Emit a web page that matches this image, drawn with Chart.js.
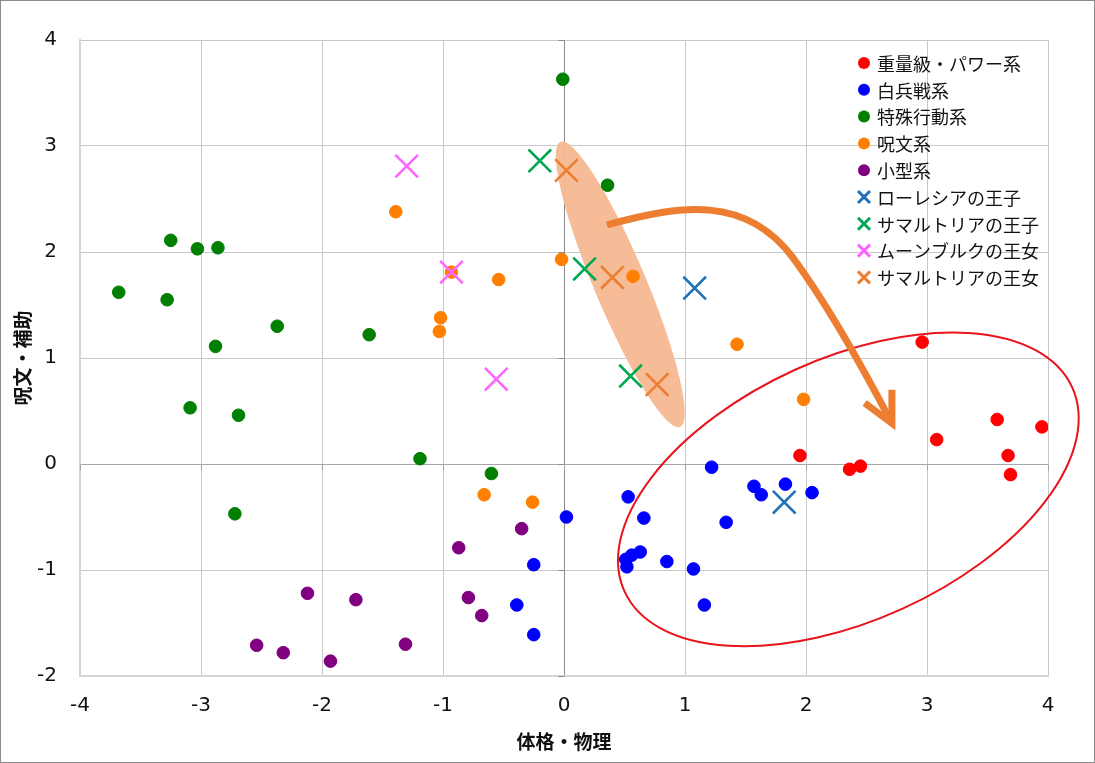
<!DOCTYPE html>
<html lang="ja">
<head>
<meta charset="utf-8">
<title>体格・物理 × 呪文・補助</title>
<script src="https://cdn.jsdelivr.net/npm/chart.js@4.4.1/dist/chart.umd.min.js"></script>
<style>
  html, body { margin: 0; padding: 0; background: #fff; }
  #wrap { width: 1095px; height: 763px; position: relative; }
</style>
</head>
<body>
<div id="wrap"><canvas id="chart"></canvas></div>
<script>
// tick labels
const x_ticks = [-4, -3, -2, -1, 0, 1, 2, 3, 4];
const y_ticks = [-2, -1, 0, 1, 2, 3, 4];

// series names (legend order)
const series_names = [
  "重量級・パワー系", "白兵戦系", "特殊行動系", "呪文系", "小型系",
  "ローレシアの王子", "サマルトリアの王子", "ムーンブルクの王女", "サマルトリアの王女"
];

// values: [体格・物理, 呪文・補助]
const heavy = [[1.95, 0.08], [2.36, -0.05], [2.45, -0.02], [2.96, 1.15], [3.08, 0.23],
  [3.58, 0.42], [3.67, 0.08], [3.69, -0.10], [3.95, 0.35]];
const melee = [[0.02, -0.50], [-0.25, -0.95], [-0.39, -1.33], [-0.25, -1.61], [0.53, -0.31],
  [0.66, -0.51], [0.63, -0.83], [0.56, -0.86], [0.51, -0.90], [0.52, -0.97], [0.85, -0.92],
  [1.07, -0.99], [1.16, -1.33], [1.22, -0.03], [1.34, -0.55], [1.57, -0.21], [1.63, -0.29],
  [1.83, -0.19], [2.05, -0.27]];
const special = [[-3.68, 1.62], [-3.25, 2.11], [-3.03, 2.03], [-2.86, 2.04], [-3.28, 1.55],
  [-2.88, 1.11], [-2.37, 1.30], [-1.61, 1.22], [-3.09, 0.53], [-2.69, 0.46], [-2.72, -0.47],
  [-1.19, 0.05], [-0.60, -0.09], [-0.01, 3.63], [0.36, 2.63]];
const spell = [[-1.39, 2.38], [-0.93, 1.81], [-0.54, 1.74], [-1.02, 1.38], [-1.03, 1.25],
  [-0.02, 1.93], [0.57, 1.77], [1.43, 1.13], [1.98, 0.61], [-0.66, -0.29], [-0.26, -0.36]];
const small = [[-0.35, -0.61], [-0.87, -0.79], [-0.79, -1.26], [-0.68, -1.43], [-2.12, -1.22],
  [-1.72, -1.28], [-2.54, -1.71], [-2.32, -1.78], [-1.93, -1.86], [-1.31, -1.70]];
const laurasia_prince = [[1.08, 1.66], [1.82, -0.36]];
const samaltria_prince = [[-0.20, 2.86], [0.17, 1.84], [0.55, 0.83]];
const moonbrooke_princess = [[-1.30, 2.81], [-0.93, 1.81], [-0.56, 0.80]];
const samaltria_princess = [[0.02, 2.77], [0.40, 1.76], [0.77, 0.75]];

const series_values = [heavy, melee, special, spell, small,
  laurasia_prince, samaltria_prince, moonbrooke_princess, samaltria_princess];
const series_colors = ["#ff0000", "#0000ff", "#007f00", "#ff7f00", "#800080",
  "#1f72b8", "#00a852", "#ff66ff", "#ed7d31"];

const font_jp = "'Noto Sans CJK JP', 'Noto Sans', sans-serif";
const font_num = "'DejaVu Sans', Verdana, sans-serif";

function make_dataset(i){
  const is_cross = i >= 5;
  return {
    label: series_names[i],
    data: series_values[i].map(p => ({x: p[0], y: p[1]})),
    pointStyle: is_cross ? "crossRot" : "circle",
    pointRadius: is_cross ? 16 : 6.3,
    pointHoverRadius: is_cross ? 16 : 6.3,
    borderWidth: is_cross ? 2.6 : 1,
    pointBorderWidth: is_cross ? 2.6 : 1,
    borderColor: series_colors[i],
    backgroundColor: series_colors[i],
    order: is_cross ? 1 : 2
  };
}

// drawn shapes: helper ellipse / arrow / red circle (data coords, sizes in px)
const peach_blob = { from: [-0.03, 3.04], to: [0.96, 0.35], half_width: 26 };
const red_ring = { center: [2.35, -0.24], rx: 246, ry: 131, angle: -24.5 };
const arrow_path = {
  start: [0.355, 2.255], c1: [0.96, 2.445], c2: [1.50, 2.54], mid: [1.89, 1.95],
  q: [2.24, 1.41], tip: [2.71, 0.385], arm_1: [2.71, 0.70], arm_2: [2.485, 0.575]
};

const overlay = {
  id: "overlay",
  beforeDraw(chart){
    const ctx = chart.ctx;
    ctx.save();
    ctx.fillStyle = "#fff";
    ctx.fillRect(0, 0, chart.width, chart.height);
    ctx.restore();
  },
  beforeDatasetsDraw(chart){
    // small tick marks on the axis lines that cross at 0
    const ctx = chart.ctx, xs = chart.scales.x, ys = chart.scales.y;
    const x0 = Math.round(xs.getPixelForValue(0)) + 0.5;
    const y0 = Math.round(ys.getPixelForValue(0)) + 0.5;
    const P = (p) => [xs.getPixelForValue(p[0]), ys.getPixelForValue(p[1])];
    ctx.save();
    ctx.lineWidth = 1;
    ctx.strokeStyle = "#8a8a8a";
    y_ticks.forEach(v => {
      const py = Math.round(ys.getPixelForValue(v)) + 0.5;
      ctx.beginPath(); ctx.moveTo(x0 - 6, py); ctx.lineTo(x0, py); ctx.stroke();
    });
    ctx.strokeStyle = "#a6a6a6";
    x_ticks.forEach(v => {
      const px = Math.round(xs.getPixelForValue(v)) + 0.5;
      ctx.beginPath(); ctx.moveTo(px, y0); ctx.lineTo(px, y0 + 6); ctx.stroke();
    });

    // peach blob sits under the markers but hides the grid
    const a = P(peach_blob.from), b = P(peach_blob.to);
    const cx = (a[0] + b[0]) / 2, cy = (a[1] + b[1]) / 2;
    const len = Math.hypot(b[0] - a[0], b[1] - a[1]) / 2;
    const ang = Math.atan2(b[1] - a[1], b[0] - a[0]);
    ctx.fillStyle = "rgba(244,184,145,0.95)";
    ctx.beginPath();
    ctx.ellipse(cx, cy, len, peach_blob.half_width, ang, 0, Math.PI * 2);
    ctx.fill();
    ctx.restore();
  },
  afterDatasetsDraw(chart){
    const ctx = chart.ctx, xs = chart.scales.x, ys = chart.scales.y;
    const P = (p) => [xs.getPixelForValue(p[0]), ys.getPixelForValue(p[1])];

    // red ring
    const c = P(red_ring.center);
    ctx.save();
    ctx.strokeStyle = "#e8141c";
    ctx.lineWidth = 2;
    ctx.beginPath();
    ctx.ellipse(c[0], c[1], red_ring.rx, red_ring.ry, red_ring.angle * Math.PI / 180, 0, Math.PI * 2);
    ctx.stroke();
    ctx.restore();

    // arrow
    const s = P(arrow_path.start), c1 = P(arrow_path.c1), c2 = P(arrow_path.c2), m = P(arrow_path.mid);
    const q = P(arrow_path.q), t = P(arrow_path.tip), a1 = P(arrow_path.arm_1), a2 = P(arrow_path.arm_2);
    ctx.save();
    ctx.strokeStyle = "#ed7d31";
    ctx.lineWidth = 7;
    ctx.lineCap = "butt";
    ctx.lineJoin = "round";
    ctx.beginPath();
    ctx.moveTo(s[0], s[1]);
    ctx.bezierCurveTo(c1[0], c1[1], c2[0], c2[1], m[0], m[1]);
    ctx.quadraticCurveTo(q[0], q[1], t[0], t[1]);
    ctx.stroke();
    ctx.lineJoin = "miter";
    ctx.beginPath();
    ctx.moveTo(a1[0], a1[1]);
    ctx.lineTo(t[0], t[1]);
    ctx.lineTo(a2[0], a2[1]);
    ctx.stroke();
    ctx.restore();
  },
  afterDraw(chart){
    const ctx = chart.ctx, area = chart.chartArea;
    // legend inside the plot, top right
    ctx.save();
    ctx.font = "18px " + font_jp;
    ctx.textBaseline = "middle";
    ctx.textAlign = "left";
    const mx = area.right - 184, tx = area.right - 171;
    chart.data.datasets.forEach((ds, i) => {
      const y = area.top + 23 + i * 26.8;
      if (ds.pointStyle === "circle"){
        ctx.fillStyle = ds.backgroundColor;
        ctx.beginPath(); ctx.arc(mx, y, 6, 0, Math.PI * 2); ctx.fill();
      } else {
        ctx.strokeStyle = ds.borderColor;
        ctx.lineWidth = 3;
        ctx.beginPath();
        ctx.moveTo(mx - 6, y - 6); ctx.lineTo(mx + 6, y + 6);
        ctx.moveTo(mx + 6, y - 6); ctx.lineTo(mx - 6, y + 6);
        ctx.stroke();
      }
      ctx.fillStyle = "#111";
      ctx.fillText(ds.label, tx, y + 1);
    });
    // outer frame
    ctx.strokeStyle = "#8c8c8c";
    ctx.lineWidth = 1;
    ctx.strokeRect(0.5, 0.5, chart.width - 1, chart.height - 1);
    ctx.restore();
  }
};

const ctx_1 = document.getElementById("chart");

const chart_1 = new Chart(ctx_1, {
  type: "scatter",
  data: { datasets: series_values.map((v, i) => make_dataset(i)) },
  options: {
    responsive: true,
    maintainAspectRatio: false,
    devicePixelRatio: 1,
    animation: false,
    events: [],
    layout: { padding: { left: 0, top: 40, right: 47, bottom: 0 } },
    plugins: { legend: { display: false }, tooltip: { enabled: false } },
    scales: {
      x: {
        type: "linear",
        min: x_ticks[0], max: x_ticks[x_ticks.length - 1],
        afterFit: (s) => { s.height = 87; },
        afterBuildTicks: (s) => { s.ticks = x_ticks.map(v => ({value: v})); },
        ticks: { color: "#111", padding: 18, font: { family: font_num, size: 20 } },
        grid: {
          drawTicks: false,
          color: (c) => (c.tick && c.tick.value === 0) ? "#8a8a8a" : "#c8c8c8",
          lineWidth: 1
        },
        border: { color: "#d4d4d4", width: 2 },
        title: {
          display: true, text: "体格・物理", color: "#111",
          font: { family: font_jp, size: 19, weight: "bold" },
          padding: { top: 0, bottom: 10 }
        }
      },
      y: {
        type: "linear",
        min: y_ticks[0], max: y_ticks[y_ticks.length - 1],
        afterFit: (s) => { s.width = 80; },
        afterBuildTicks: (s) => { s.ticks = y_ticks.map(v => ({value: v})); },
        ticks: { color: "#111", padding: 23, font: { family: font_num, size: 20 } },
        grid: {
          drawTicks: false,
          color: (c) => (c.tick && c.tick.value === 0) ? "#a6a6a6" : "#c8c8c8",
          lineWidth: 1
        },
        border: { color: "#d4d4d4", width: 2 },
        title: {
          display: true, text: "呪文・補助", color: "#111",
          font: { family: font_jp, size: 19, weight: "bold" },
          padding: { top: 11, bottom: 0 }
        }
      }
    }
  },
  plugins: [overlay]
});
</script>
</body>
</html>
